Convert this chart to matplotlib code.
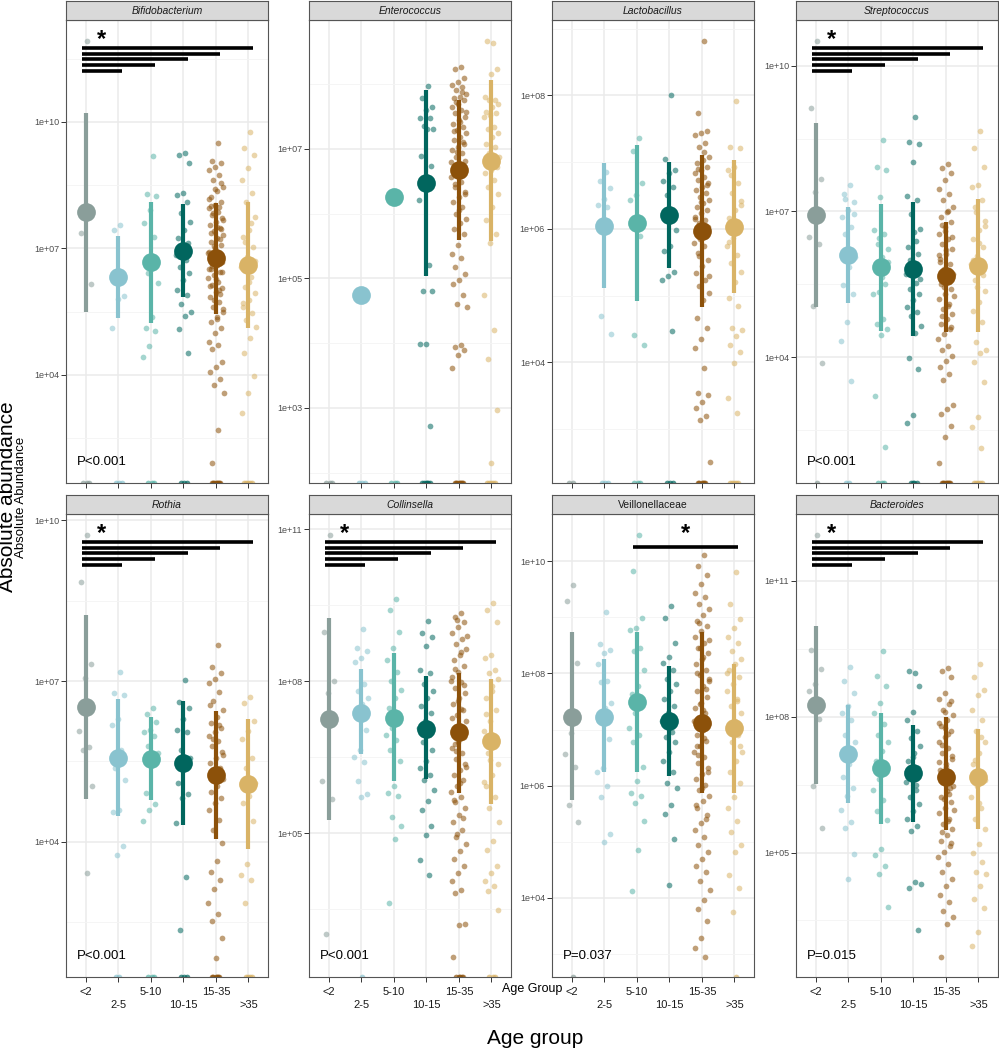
import matplotlib
matplotlib.use("Agg")
import matplotlib.pyplot as plt
import matplotlib.transforms as mtransforms
import numpy as np

plt.rcParams['font.family'] = ['Liberation Sans', 'DejaVu Sans']

GROUPS = ['<2', '2-5', '5-10', '10-15', '15-35', '>35']
TAXA = ['Bifidobacterium', 'Enterococcus', 'Lactobacillus', 'Streptococcus',
        'Rothia', 'Collinsella', 'Veillonellaceae', 'Bacteroides']
ITALIC = [True, True, True, True, True, True, False, True]
P_LABELS = ['P<0.001', None, None, 'P<0.001', 'P<0.001', 'P<0.001', 'P=0.037', 'P=0.015']
ALL_VS_FIRST = [(1, 2), (1, 3), (1, 4), (1, 5), (1, 6)]
SIG_PAIRS = [ALL_VS_FIRST, [], [], ALL_VS_FIRST, ALL_VS_FIRST, ALL_VS_FIRST, [(3, 6)], ALL_VS_FIRST]

# log10 of absolute abundance: group centre and interval, one row per taxon
N = np.nan
MEANS = [
    [7.86, 6.33, 6.67, 6.94, 6.76, 6.60],
    [N, 4.75, 6.25, 6.48, 6.68, 6.82],
    [N, 6.04, 6.09, 6.20, 5.97, 6.02],
    [6.92, 6.11, 5.85, 5.81, 5.68, 5.87],
    [6.52, 5.57, 5.55, 5.47, 5.24, 5.07],
    [7.26, 7.38, 7.28, 7.06, 6.99, 6.81],
    [7.23, 7.23, 7.49, 7.16, 7.12, 7.03],
    [8.27, 7.18, 6.86, 6.76, 6.67, 6.67],
]
LOWER = [
    [5.49, 5.35, 5.23, 5.85, 5.44, 5.12],
    [N, N, N, 5.03, 5.60, 5.57],
    [N, 5.11, 4.92, 5.41, 4.83, 5.04],
    [5.03, 5.12, 4.54, 4.43, 4.52, 4.52],
    [4.79, 4.48, 4.78, 4.31, 4.04, 3.87],
    [5.25, 6.56, 6.02, 6.06, 5.80, 5.57],
    [5.74, 6.25, 6.25, 6.17, 5.86, 5.87],
    [6.51, 6.09, 5.63, 5.67, 5.49, 5.52],
]
UPPER = [
    [10.22, 7.29, 8.09, 8.05, 8.07, 8.11],
    [N, N, N, 7.91, 7.75, 8.06],
    [N, 6.98, 7.25, 7.00, 7.11, 7.03],
    [8.81, 7.09, 7.16, 7.19, 6.78, 7.25],
    [8.24, 6.66, 6.32, 6.63, 6.44, 6.29],
    [9.25, 8.24, 8.55, 8.11, 8.17, 8.05],
    [8.73, 8.26, 8.73, 8.13, 8.73, 8.16],
    [10.01, 8.27, 8.08, 7.82, 8.00, 7.72],
]
# samples with zero abundance (drawn on the lower panel edge)
ZERO_COUNTS = [
    [3, 3, 3, 3, 8, 5],
    [3, 3, 3, 6, 8, 5],
    [2, 3, 3, 3, 6, 5],
    [1, 2, 3, 4, 8, 5],
    [0, 2, 3, 3, 6, 4],
    [0, 1, 0, 0, 4, 3],
    [1, 0, 0, 0, 0, 1],
    [0, 0, 0, 0, 0, 0],
]

# individual samples, log10 abundance, per age group
PTS_BIFIDO = [
    [11.93, 7.36, 6.15],
    [7.55, 7.44, 5.87, 5.79, 5.10],
    [9.20, 8.28, 8.24, 7.91, 7.59, 7.26, 6.41, 6.17, 5.38, 5.10, 5.04, 4.68, 4.43],
    [9.26, 9.22, 9.03, 8.31, 8.27, 8.11, 7.83, 7.63, 7.44, 7.24, 7.12, 6.96, 6.84, 6.72,
     6.56, 6.41, 6.25, 6.01, 5.89, 5.69, 5.50, 5.39, 5.08, 4.51],
    [9.49, 9.08, 9.02, 8.94, 8.86, 8.74, 8.62, 8.46, 8.35, 8.23, 8.11, 8.03, 7.95, 7.87,
     7.79, 7.71, 7.63, 7.55, 7.48, 7.40, 7.32, 7.24, 7.16, 7.08, 7.00, 6.92, 6.84, 6.76,
     6.68, 6.60, 6.52, 6.45, 6.37, 6.29, 6.21, 6.13, 6.05, 5.97, 5.85, 5.73, 5.61, 5.50,
     5.38, 5.26, 5.10, 4.98, 4.78, 4.70, 4.62, 4.31, 4.19, 4.07, 3.91, 3.75, 3.56, 2.68,
     1.91, 8.55, 8.41, 8.18, 7.98, 7.83, 7.67, 7.51, 7.36, 7.21, 7.05, 6.90, 6.74, 6.58,
     6.43, 6.27, 6.10, 5.92, 5.78, 5.55, 5.33, 8.00, 7.45, 6.95, 6.50, 6.00],
    [9.77, 9.38, 9.22, 8.90, 8.62, 8.31, 8.11, 7.75, 7.44, 7.28, 7.04, 6.80, 6.56, 6.33,
     6.09, 5.93, 5.77, 5.61, 5.46, 5.30, 5.14, 4.86, 4.52, 3.97, 3.56, 3.10, 7.60, 7.15,
     6.70, 6.20, 5.70],
]
PTS_ENTERO = [
    [],
    [4.75],
    [6.25],
    [7.97, 7.79, 7.64, 7.60, 7.48, 7.48, 7.36, 7.30, 7.30, 6.89, 6.74, 6.49, 6.21, 5.21,
     4.81, 4.81, 3.99, 3.99, 2.72],
    [8.27, 8.23, 8.09, 8.03, 7.98, 7.95, 7.91, 7.85, 7.80, 7.78, 7.75, 7.70, 7.65, 7.60,
     7.55, 7.49, 7.44, 7.39, 7.34, 7.29, 7.24, 7.19, 7.13, 7.08, 7.03, 6.98, 6.93, 6.88,
     6.82, 6.77, 6.72, 6.67, 6.62, 6.57, 6.49, 6.41, 6.34, 6.26, 6.18, 6.10, 6.00, 5.92,
     5.85, 5.77, 5.69, 5.51, 5.38, 5.31, 5.18, 5.07, 4.97, 4.92, 4.74, 4.61, 4.56, 3.97,
     3.94, 3.89, 3.81, 3.61, 7.88, 7.72, 7.57, 7.41, 7.27, 7.10, 6.95, 6.80, 6.64, 6.45,
     6.30, 6.05],
    [8.63, 8.67, 8.24, 8.15, 7.80, 7.76, 7.75, 7.70, 7.65, 7.57, 7.55, 7.52, 7.49, 7.34,
     7.31, 7.24, 7.19, 7.08, 7.03, 6.93, 6.88, 6.82, 6.77, 6.72, 6.67, 6.62, 6.52, 6.41,
     6.31, 6.10, 5.90, 5.69, 5.54, 4.74, 4.21, 3.76, 2.96, 2.15],
]
PTS_LACTO = [
    [],
    [6.85, 6.71, 6.61, 6.44, 6.35, 6.33, 4.69, 4.42],
    [7.36, 7.17, 6.69, 6.51, 6.43, 5.89, 4.41, 4.26],
    [8.01, 7.05, 6.88, 6.83, 6.71, 6.63, 6.51, 5.98, 5.74, 5.66, 5.36, 5.29, 5.24, 4.47],
    [8.82, 7.73, 7.46, 7.43, 7.41, 7.28, 7.23, 7.08, 7.03, 6.98, 6.93, 6.88, 6.83, 6.78,
     6.73, 6.68, 6.63, 6.58, 6.53, 6.48, 6.43, 6.38, 6.33, 6.28, 6.23, 6.18, 6.13, 6.08,
     6.03, 5.99, 5.94, 5.89, 5.84, 5.79, 5.74, 5.64, 5.54, 5.44, 5.34, 5.24, 5.14, 5.04,
     4.94, 4.66, 4.51, 4.35, 4.21, 3.91, 3.54, 3.51, 3.40, 3.31, 3.19, 3.14, 2.50, 7.15,
     6.90, 6.65, 6.40, 6.15, 5.90, 5.60, 5.30],
    [7.91, 7.23, 7.21, 6.93, 6.88, 6.68, 6.53, 6.41, 6.28, 6.16, 5.99, 5.86, 5.74, 5.61,
     5.49, 5.36, 5.21, 4.96, 4.85, 4.51, 4.49, 4.39, 4.26, 4.15, 3.99, 3.46, 3.24, 6.80,
     6.35, 6.05, 5.80],
]
PTS_STREP = [
    [10.51, 9.13, 7.66, 7.40, 6.47, 6.33, 5.06, 3.88],
    [7.54, 7.36, 7.19, 7.03, 6.88, 6.68, 6.54, 6.06, 5.85, 5.48, 5.30, 4.72, 4.34, 3.50,
     7.25, 6.95, 6.20],
    [8.48, 7.91, 7.86, 7.30, 6.61, 6.54, 6.33, 6.23, 6.06, 5.79, 5.51, 5.34, 5.30, 4.79,
     4.69, 4.58, 4.45, 3.21, 2.16, 6.45, 5.95, 5.65],
    [8.94, 8.43, 8.38, 8.02, 7.32, 7.23, 6.94, 6.64, 6.57, 6.27, 6.13, 5.92, 5.72, 5.52,
     5.41, 5.30, 5.17, 5.03, 4.92, 4.84, 4.65, 4.49, 3.98, 3.76, 2.81, 2.65, 6.40, 6.00,
     5.60],
    [7.98, 7.89, 7.79, 7.64, 7.47, 7.36, 7.23, 7.09, 6.99, 6.88, 6.78, 6.68, 6.54, 6.44,
     6.33, 6.23, 6.13, 6.03, 5.92, 5.82, 5.72, 5.61, 5.51, 5.41, 5.30, 5.20, 5.10, 5.00,
     4.89, 4.79, 4.69, 4.58, 4.48, 4.38, 4.24, 4.14, 4.03, 3.93, 3.79, 3.66, 3.52, 3.01,
     2.94, 2.83, 2.59, 2.35, 1.82, 7.00, 6.72, 6.48, 6.20, 5.95, 5.68, 5.45, 5.25, 5.05,
     4.85, 4.62, 6.60, 6.10, 5.55],
    [8.65, 8.30, 7.91, 7.54, 7.50, 7.23, 6.99, 6.81, 6.61, 6.44, 6.27, 6.09, 5.92, 5.79,
     5.58, 5.37, 5.13, 4.96, 4.72, 4.31, 4.14, 4.09, 3.90, 3.49, 2.77, 2.57, 2.13, 7.10,
     6.70, 6.35, 6.00, 5.70, 5.45],
]
PTS_ROTHIA = [
    [9.72, 8.85, 7.31, 7.06, 6.06, 5.76, 5.71, 5.04, 3.41],
    [7.16, 6.77, 6.73, 6.29, 6.17, 5.71, 5.37, 5.15, 4.59, 4.56, 3.92, 3.75],
    [6.49, 6.39, 6.24, 6.08, 6.05, 5.98, 5.78, 5.65, 5.44, 4.90, 4.70, 4.59, 4.38],
    [7.01, 6.61, 6.49, 6.29, 6.08, 6.05, 5.72, 5.57, 5.37, 5.10, 4.88, 4.82, 4.35, 3.33,
     2.34],
    [7.67, 7.26, 7.15, 7.03, 6.97, 6.80, 6.63, 6.46, 6.32, 6.22, 6.12, 6.05, 5.98, 5.88,
     5.78, 5.67, 5.57, 5.47, 5.37, 5.27, 5.16, 5.03, 4.93, 4.82, 4.72, 4.59, 4.41, 4.21,
     3.97, 3.63, 3.43, 3.29, 3.12, 2.85, 2.65, 2.51, 2.20, 1.83, 6.55, 6.18, 5.92, 5.62],
    [6.71, 6.59, 6.25, 6.06, 5.91, 5.57, 5.37, 5.10, 4.86, 4.72, 4.38, 3.58, 3.37, 3.29,
     2.85],
]
PTS_COLLIN = [
    [10.89, 8.98, 8.01, 7.76, 6.02, 5.68, 3.00],
    [9.03, 8.66, 8.59, 8.45, 8.37, 7.94, 7.80, 7.66, 7.55, 7.30, 7.04, 6.65, 6.51, 6.40,
     6.02, 5.77, 5.72],
    [9.63, 9.40, 8.98, 8.66, 8.41, 8.19, 8.01, 7.83, 7.66, 7.48, 7.30, 7.08, 6.94, 6.83,
     6.65, 6.43, 5.93, 5.79, 5.73, 5.32, 5.14, 4.89, 3.63],
    [9.18, 8.95, 8.88, 8.70, 8.23, 8.16, 7.94, 7.80, 7.66, 7.51, 7.37, 7.22, 7.08, 6.94,
     6.79, 6.65, 6.43, 6.29, 6.15, 6.04, 5.86, 5.64, 5.46, 5.14, 4.96, 4.46, 4.17],
    [9.34, 9.27, 9.16, 9.06, 8.95, 8.84, 8.73, 8.63, 8.52, 8.41, 8.30, 8.19, 8.09, 7.98,
     7.87, 7.76, 7.66, 7.55, 7.44, 7.33, 7.22, 7.12, 7.01, 6.90, 6.79, 6.69, 6.58, 6.47,
     6.36, 6.25, 6.15, 6.04, 5.93, 5.82, 5.72, 5.61, 5.50, 5.36, 5.21, 5.07, 4.93, 4.78,
     4.64, 4.49, 4.35, 4.21, 4.06, 3.88, 3.81, 3.20, 3.19, 2.55, 2.16, 9.20, 8.90, 8.58,
     8.25, 7.92, 7.60, 7.28, 6.96, 6.63, 6.30, 5.98, 5.66, 5.30, 4.98, 8.00, 7.45, 6.75],
    [9.54, 9.40, 9.16, 8.52, 8.45, 8.23, 8.16, 8.05, 7.80, 7.66, 7.44, 7.22, 7.01, 6.79,
     6.58, 6.36, 6.15, 5.93, 5.72, 5.50, 5.21, 4.85, 4.67, 4.35, 4.21, 4.06, 3.95, 3.85,
     3.49, 7.90, 7.35, 6.90, 6.45, 6.00],
]
PTS_VEILLON = [
    [9.58, 9.29, 8.19, 6.93, 6.57, 6.34, 5.66, 5.36],
    [9.09, 8.52, 8.42, 8.36, 8.16, 7.87, 7.84, 7.48, 7.38, 7.16, 6.83, 6.31, 6.25, 5.99,
     5.79, 5.14, 5.00],
    [10.47, 9.83, 8.99, 8.81, 8.78, 8.45, 8.39, 8.06, 7.77, 7.64, 7.48, 7.29, 7.03, 6.90,
     6.77, 6.34, 6.08, 5.87, 5.82, 5.69, 5.37, 4.86, 4.12],
    [9.20, 8.99, 8.55, 8.29, 8.19, 8.06, 7.90, 7.81, 7.68, 7.55, 7.42, 7.29, 7.16, 6.96,
     6.86, 6.77, 6.60, 6.44, 6.25, 6.05, 5.95, 5.66, 5.50, 5.05, 4.23],
    [10.11, 9.92, 9.75, 9.59, 9.43, 9.36, 9.23, 9.14, 9.04, 8.94, 8.84, 8.75, 8.65, 8.55,
     8.45, 8.36, 8.26, 8.16, 8.06, 7.97, 7.87, 7.77, 7.68, 7.58, 7.48, 7.38, 7.29, 7.19,
     7.09, 6.99, 6.90, 6.80, 6.70, 6.60, 6.51, 6.41, 6.31, 6.21, 6.12, 6.02, 5.92, 5.82,
     5.73, 5.60, 5.47, 5.34, 5.21, 5.08, 4.95, 4.82, 4.69, 4.56, 4.46, 4.30, 4.14, 3.97,
     3.81, 3.58, 3.29, 3.10, 2.94, 8.90, 8.60, 8.30, 8.00, 7.72, 7.45, 7.15, 6.85, 6.55,
     6.25, 5.95, 5.65, 5.40, 8.45, 7.90, 7.35, 6.70],
    [9.81, 9.23, 8.97, 8.81, 8.65, 8.55, 8.39, 8.26, 8.16, 8.06, 7.94, 7.81, 7.68, 7.55,
     7.42, 7.29, 7.16, 7.03, 6.90, 6.77, 6.60, 6.44, 6.25, 6.05, 5.79, 5.60, 5.37, 5.18,
     4.95, 4.82, 4.40, 4.17, 3.75, 8.00, 7.50, 7.10, 6.70],
]
PTS_BACTERO = [
    [12.02, 9.47, 9.05, 8.72, 8.56, 7.96, 6.47, 5.55],
    [9.10, 8.79, 8.52, 8.24, 8.08, 7.92, 7.60, 7.44, 6.95, 6.67, 6.43, 6.25, 5.95, 5.68,
     5.55, 4.97, 4.42],
    [9.46, 8.91, 8.67, 8.30, 8.08, 7.84, 7.60, 7.44, 7.24, 7.03, 6.79, 6.63, 6.39, 6.15,
     5.91, 5.71, 5.07, 4.94, 4.70, 4.52, 3.80],
    [8.97, 9.01, 8.68, 8.10, 7.92, 7.68, 7.52, 7.36, 7.20, 7.03, 6.87, 6.71, 6.55, 6.39,
     6.23, 6.07, 5.91, 5.75, 5.59, 5.47, 4.30, 4.36, 4.22, 3.29, 7.10, 6.80, 6.50],
    [9.07, 9.01, 8.88, 8.52, 8.40, 8.28, 8.16, 8.04, 7.92, 7.80, 7.68, 7.56, 7.44, 7.32,
     7.20, 7.07, 6.95, 6.83, 6.71, 6.59, 6.47, 6.35, 6.23, 6.11, 5.99, 5.87, 5.75, 5.63,
     5.51, 5.39, 5.26, 5.14, 5.02, 4.90, 4.74, 4.58, 4.42, 4.26, 4.06, 3.90, 3.70, 3.58,
     3.41, 2.69, 8.35, 8.10, 7.86, 7.62, 7.38, 7.14, 6.90, 6.66, 6.42, 6.18, 5.94, 5.70,
     5.45, 5.20, 7.75, 7.00, 6.30],
    [9.17, 8.88, 8.60, 8.47, 8.16, 7.92, 7.68, 7.44, 7.20, 6.95, 6.71, 6.47, 6.23, 5.99,
     5.75, 5.51, 5.18, 4.98, 4.78, 4.58, 4.52, 4.26, 3.98, 3.78, 3.25, 2.93, 7.55, 7.05,
     6.60, 6.10],
]
POINTS = [PTS_BIFIDO, PTS_ENTERO, PTS_LACTO, PTS_STREP,
          PTS_ROTHIA, PTS_COLLIN, PTS_VEILLON, PTS_BACTERO]

# y axis (log10) range and labelled decades of each panel
Y_RANGE = [(1.43, 12.42), (1.84, 8.99), (2.19, 9.13), (1.41, 10.94),
           (1.47, 10.12), (2.16, 11.30), (2.59, 10.84), (2.25, 12.48)]
Y_MAJOR = [[4, 7, 10], [3, 5, 7], [4, 6, 8], [4, 7, 10],
           [4, 7, 10], [5, 8, 11], [4, 6, 8, 10], [5, 8, 11]]

COLORS = ['#8A9E9A', '#89C3CF', '#5AB4A8', '#01665E', '#8C510A', '#D9B366']

W, H = 999, 1050
COL_LEFT = [66, 309, 552, 796]
PANEL_W = 202
ROW_TOP = [20, 514]
PANEL_H = 463
STRIP_H = 19


def jitter(n, width=0.24):
    k = np.arange(1, n + 1)
    return ((k * 0.6180339887) % 1.0 - 0.5) * 2 * width


fig = plt.figure(figsize=(W / 100, H / 100), dpi=100)
xs = np.arange(1, len(GROUPS) + 1)

for i, taxon in enumerate(TAXA):
    row, col = divmod(i, 4)
    left = COL_LEFT[col] / W
    bottom = 1 - (ROW_TOP[row] + PANEL_H) / H
    ax = fig.add_axes([left, bottom, PANEL_W / W, PANEL_H / H])

    lo, hi = Y_RANGE[i]
    ax.set_yscale('log')
    ax.set_ylim(10 ** lo, 10 ** hi)
    ax.set_xlim(0.4, 6.6)

    # grid: labelled decades plus half-way minor lines
    majors = Y_MAJOR[i]
    step = majors[1] - majors[0]
    minors = [m + step / 2 for m in [majors[0] - step] + majors]
    minors = [m for m in minors if lo < m < hi]
    ax.set_yticks([10.0 ** m for m in majors])
    ax.set_yticklabels([f'1e+{m:02d}' for m in majors])
    ax.set_yticks([10.0 ** m for m in minors], minor=True)
    ax.yaxis.set_minor_formatter(plt.NullFormatter())
    ax.set_xticks(xs)
    ax.grid(which='major', color='#EBEBEB', lw=1.1, zorder=0)
    ax.grid(which='minor', axis='y', color='#F4F4F4', lw=0.6, zorder=0)
    ax.set_axisbelow(True)

    for g in range(len(GROUPS)):
        c = COLORS[g]
        vals = np.array(POINTS[i][g], dtype=float)
        if len(vals):
            ax.scatter(xs[g] + jitter(len(vals)), 10 ** vals, s=17, color=c,
                       alpha=0.55, lw=0, zorder=2)
        nz = ZERO_COUNTS[i][g]
        if nz:
            ax.scatter(xs[g] + jitter(nz, 0.15), np.full(nz, 10 ** lo), s=17,
                       color=c, alpha=0.7, lw=0, zorder=2, clip_on=True)
        if not np.isnan(LOWER[i][g]):
            ax.vlines(xs[g], 10 ** LOWER[i][g], 10 ** UPPER[i][g], color=c,
                      lw=3.0, zorder=3)
        if not np.isnan(MEANS[i][g]):
            ax.plot(xs[g], 10 ** MEANS[i][g], 'o', ms=13.5, color=c, mec='none',
                    zorder=4)

    # significance brackets
    trans = mtransforms.blended_transform_factory(ax.transData, ax.transAxes)
    pairs = SIG_PAIRS[i]
    if pairs:
        if len(pairs) == 1:
            a, b = pairs[0]
            ax.plot([a - 0.12, b + 0.12], [0.929, 0.929], color='black', lw=2.6,
                    solid_capstyle='butt', transform=trans, zorder=5)
            star_x = (a + b) / 2
        else:
            for k, (a, b) in enumerate(sorted(pairs, key=lambda p: -p[1])):
                yy = 0.940 - k * 0.0125
                ax.plot([a - 0.12, b + 0.13], [yy, yy], color='black', lw=2.6,
                        solid_capstyle='butt', transform=trans, zorder=5)
            star_x = 1.5
        ax.text(star_x, 0.958, '*', transform=trans, fontsize=17, fontweight='bold',
                ha='center', va='center', zorder=6)

    if P_LABELS[i]:
        ax.text(0.055, 0.045, P_LABELS[i], transform=ax.transAxes, fontsize=9.5,
                ha='left', va='center')

    for sp in ax.spines.values():
        sp.set_color('#555555')
        sp.set_linewidth(0.8)
    ax.tick_params(axis='both', which='major', length=3.5, width=0.7,
                   color='#333333', labelsize=6.5, labelcolor='#4D4D4D', pad=1.5)
    ax.tick_params(axis='y', which='minor', length=0)
    if row == 1:
        ax.set_xticklabels([('' if k % 2 == 0 else '\n') + g for k, g in enumerate(GROUPS)],
                           fontsize=8, color='#1A1A1A', linespacing=1.3)
        ax.tick_params(axis='x', pad=4)
    else:
        ax.set_xticklabels([])

    # facet strip
    sax = fig.add_axes([left, 1 - ROW_TOP[row] / H, PANEL_W / W, STRIP_H / H])
    sax.set_facecolor('#D9D9D9')
    sax.set_xticks([])
    sax.set_yticks([])
    for sp in sax.spines.values():
        sp.set_color('#555555')
        sp.set_linewidth(0.8)
    sax.text(0.5, 0.5, taxon, transform=sax.transAxes, ha='center', va='center',
             fontsize=7.5, color='#1A1A1A', style='italic' if ITALIC[i] else 'normal')

fig.text(8 / W, 1 - 497 / H, 'Absolute abundance', rotation=90, fontsize=15,
         ha='center', va='center')
fig.text(21.5 / W, 1 - 497 / H, 'Absolute Abundance', rotation=90, fontsize=9.5,
         ha='center', va='center')
fig.text(535 / W, 1 - 1038 / H, 'Age group', fontsize=15, ha='center', va='center')
fig.text(532 / W, 1 - 989 / H, 'Age Group', fontsize=9, ha='center', va='center')

fig.savefig('out.png', dpi=100)
